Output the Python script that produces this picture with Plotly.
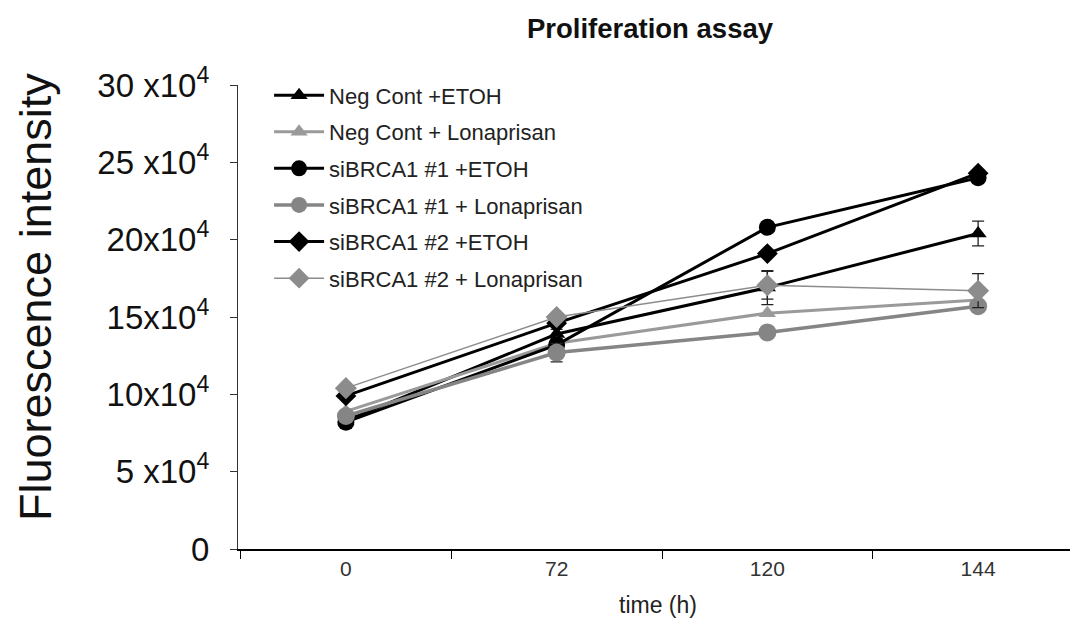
import plotly.graph_objects as go

times = ["0", "72", "120", "144"]
tick_vals = [0, 50000, 100000, 150000, 200000, 250000, 300000]
tick_text = ["0", "5 x10<sup>4</sup>", "10x10<sup>4</sup>", "15x10<sup>4</sup>",
             "20x10<sup>4</sup>", "25 x10<sup>4</sup>", "30 x10<sup>4</sup>"]

names = ["Neg Cont +ETOH", "Neg Cont + Lonaprisan", "siBRCA1 #1 +ETOH",
         "siBRCA1 #1 + Lonaprisan", "siBRCA1 #2 +ETOH", "siBRCA1 #2 + Lonaprisan"]

neg_etoh = [83000, 139000, 169000, 204000]
neg_lona = [89000, 133000, 152500, 161000]
si1_etoh = [82000, 132000, 208000, 240000]
si1_lona = [86000, 127000, 140000, 157000]
si2_etoh = [99000, 146000, 191000, 243000]
si2_lona = [104000, 150000, 170500, 167000]

neg_etoh_err = [5000, 3000, 11000, 8000]
si1_lona_err = [0, 6000, 0, 0]
si2_lona_err = [0, 0, 9000, 11000]

series = [neg_etoh, neg_lona, si1_etoh, si1_lona, si2_etoh, si2_lona]
errors = [neg_etoh_err, None, None, si1_lona_err, None, si2_lona_err]
colors = ["#000000", "#9a9a9a", "#000000", "#858585", "#000000", "#8c8c8c"]
symbols = ["triangle-up", "triangle-up", "circle", "circle", "diamond", "diamond"]
msizes = [15, 15, 17, 18, 16, 17]
lwidths = [3, 3, 3, 3.5, 3, 1.5]

# The page body has an 8px default margin; the figure is sized to fit the window.
W, H = 1070, 620
fig = go.Figure()
for i, (nm, ys) in enumerate(zip(names, series)):
    err = errors[i]
    ey = dict(type="data", array=err, visible=True, color="#222222",
              thickness=1.3, width=6) if err is not None else None
    fig.add_trace(go.Scatter(
        x=times, y=ys, name=nm, mode="lines+markers",
        line=dict(color=colors[i], width=lwidths[i]),
        marker=dict(color=colors[i], symbol=symbols[i], size=msizes[i], line=dict(width=0)),
        error_y=ey, legendgroup=nm,
    ))

fig.update_layout(
    width=W, height=H,
    margin=dict(l=230, r=0, t=77, b=79),
    paper_bgcolor="white", plot_bgcolor="white",
    font=dict(family="Arial, Liberation Sans, sans-serif", color="#111111"),
    title=dict(text="<b>Proliferation assay</b>", x=(650 - 238) / 840, xref="paper", xanchor="center",
               y=1 - 20 / H, yanchor="middle", font=dict(size=27.5, color="#111111")),
    showlegend=True,
    legend=dict(x=0.037, y=1.023, xanchor="left", yanchor="top", bgcolor="rgba(0,0,0,0)",
                font=dict(size=22, color="#222222"), tracegroupgap=5, traceorder="grouped",
                itemwidth=50),
    xaxis=dict(type="category", range=[-0.512, 3.474], showline=True, linecolor="#000000",
               linewidth=1.5, ticks="outside", ticklen=8, tickcolor="#000000", tickson="boundaries",
               showgrid=False, zeroline=False, tickfont=dict(size=21, color="#333333"),
               title=dict(text="time (h)", font=dict(size=23, color="#222222"), standoff=18)),
    yaxis=dict(range=[0, 300000], tickvals=tick_vals, ticktext=tick_text, showline=True,
               linecolor="#333333", linewidth=1.2, ticks="outside", ticklen=7, tickcolor="#333333",
               showgrid=False, zeroline=False, tickfont=dict(size=33, color="#111111"),
               ticklabelstandoff=14),
    annotations=[dict(text="Fluorescence intensity", xref="paper", yref="paper",
                      x=(35 - 238) / 840, y=(549 - 297) / 464, textangle=-90, showarrow=False,
                      xanchor="center", yanchor="middle", font=dict(size=45, color="#111111"))],
)

fig.write_html("out.html")
